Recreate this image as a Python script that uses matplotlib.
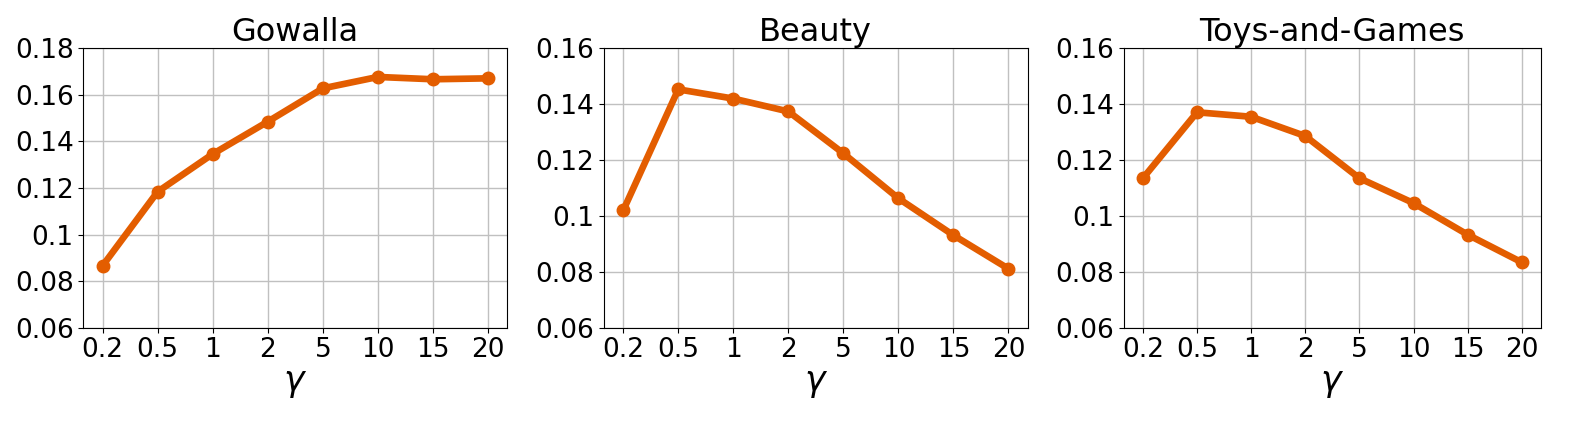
import matplotlib.pyplot as plt

gammas = ['0.2', '0.5', '1', '2', '5', '10', '15', '20']

gowalla = [0.0866, 0.1184, 0.1346, 0.1485, 0.1628, 0.1677, 0.1667, 0.1671]
beauty = [0.1020, 0.1453, 0.1420, 0.1374, 0.1224, 0.1063, 0.0931, 0.0811]
toys = [0.1135, 0.1371, 0.1355, 0.1286, 0.1135, 0.1046, 0.0933, 0.0834]

titles = ['Gowalla', 'Beauty', 'Toys-and-Games']
series = [gowalla, beauty, toys]
y_ranges = [(0.06, 0.18), (0.06, 0.16), (0.06, 0.16)]
y_ticks = [[0.06, 0.08, 0.1, 0.12, 0.14, 0.16, 0.18],
           [0.06, 0.08, 0.1, 0.12, 0.14, 0.16],
           [0.06, 0.08, 0.1, 0.12, 0.14, 0.16]]

W, H = 1578, 421
fig = plt.figure(figsize=(W / 100, H / 100), dpi=100)

# axes boxes in pixels: left, right, top, bottom
boxes = [(83.3, 507.3, 48.3, 327.7),
         (604, 1027.7, 48.3, 327.7),
         (1124, 1540.7, 48.3, 327.7)]

for box, title, vals, yr, yt in zip(boxes, titles, series, y_ranges, y_ticks):
    l, r, t, b = box
    ax = fig.add_axes([l / W, 1 - b / H, (r - l) / W, (b - t) / H])
    x = list(range(len(gammas)))
    ax.plot(x, vals, color='#e35d00', linewidth=4.8, marker='o', markersize=9)
    ax.set_xticks(x)
    ax.set_xticklabels(gammas, fontsize=19)
    ax.set_ylim(*yr)
    ax.set_yticks(yt)
    ax.set_yticklabels([('%g' % v) if v == 0.1 else ('%.2f' % v) for v in yt], fontsize=19)
    ax.grid(True, color='#c0c0c0', linewidth=1)
    ax.set_axisbelow(True)
    ax.set_title(title, fontsize=23, pad=4)
    ax.set_xlabel(r'$\gamma$', fontsize=25, labelpad=2)

fig.savefig('out.png', dpi=100)
